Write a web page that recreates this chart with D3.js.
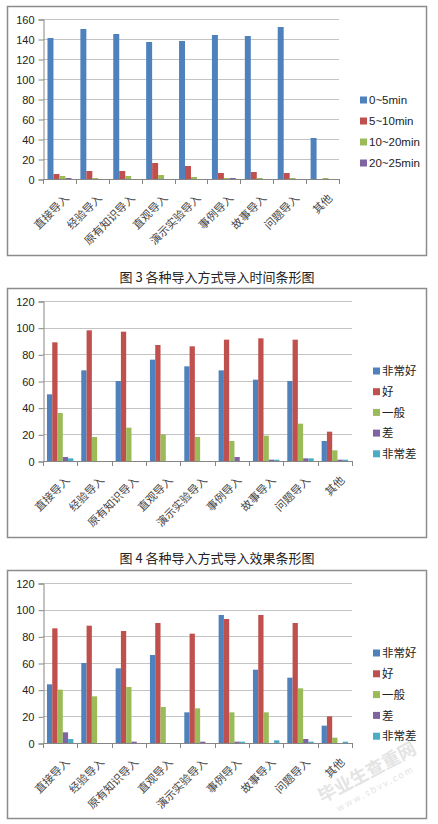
<!DOCTYPE html>
<html>
<head>
<meta charset="utf-8">
<script src="https://cdn.jsdelivr.net/npm/d3@7"></script>
<style>
  body { margin: 0; background: #fff; }
  svg { display: block; }
  .tick text { font-family: "Liberation Sans", Arial, sans-serif; }
</style>
</head>
<body>
<svg id="page" width="438" height="824"></svg>
<script>
// categories shared by all three charts
var categories = ['直接导入', '经验导入', '原有知识导入', '直观导入', '演示实验导入', '事例导入', '故事导入', '问题导入', '其他'];

// chart 1: time
var timeSeries = ['0~5min', '5~10min', '10~20min', '20~25min'];
var time0to5 = [141, 150, 145, 137, 138, 144, 143, 152, 41];
var time5to10 = [5, 8, 8, 16, 13, 6, 7, 6, 0];
var time10to20 = [3, 1, 3, 4, 2, 1, 1, 1, 1];
var time20to25 = [1, 0, 0, 0, 0, 1, 0, 0, 0];

// chart 2 and 3: effect
var effectSeries = ['非常好', '好', '一般', '差', '非常差'];
var effA_veryGood = [50, 68, 60, 76, 71, 68, 61, 60, 15];
var effA_good = [89, 98, 97, 87, 86, 91, 92, 91, 22];
var effA_fair = [36, 18, 25, 20, 18, 15, 19, 28, 8];
var effA_poor = [3, 0, 0, 0, 0, 3, 1, 2, 1];
var effA_veryPoor = [2, 0, 0, 0, 0, 0, 1, 2, 1];

var effB_veryGood = [44, 60, 56, 66, 23, 96, 55, 49, 13];
var effB_good = [86, 88, 84, 90, 82, 93, 96, 90, 20];
var effB_fair = [40, 35, 42, 27, 26, 23, 23, 41, 4];
var effB_poor = [8, 0, 1, 0, 1, 1, 0, 3, 0];
var effB_veryPoor = [3, 0, 0, 0, 0, 1, 2, 1, 1];

var colors = ['#4f81bd', '#c0504d', '#9bbb59', '#8064a2', '#4bacc6'];

var svg = d3.select('#page');

function drawChart(opt) {
  var g = svg.append('g');

  g.append('rect')
      .attr('x', 7.5)
      .attr('y', opt.boxTop + 0.5)
      .attr('width', 419)
      .attr('height', opt.boxHeight)
      .attr('fill', '#fff')
      .attr('stroke', '#8c8c8c')
      .attr('stroke-width', 1.5);

  var x = d3.scaleBand()
      .domain(categories)
      .range([opt.left, opt.right]);

  // gap width 150% of a bar, split on both sides
  var barW = x.bandwidth() / (opt.series.length + 1.5);
  var inner = d3.scaleBand()
      .domain(opt.series)
      .range([barW * 0.75, x.bandwidth() - barW * 0.75]);

  var y = d3.scaleLinear()
      .domain([0, opt.max])
      .range([opt.bottom, opt.top]);

  // gridlines
  g.append('g')
    .selectAll('line')
    .data(y.ticks(opt.max / 20).filter(function(d) { return d > 0; }))
    .enter()
    .append('line')
      .attr('x1', opt.left)
      .attr('x2', opt.right)
      .attr('y1', function(d) { return Math.round(y(d)) + 0.5; })
      .attr('y2', function(d) { return Math.round(y(d)) + 0.5; })
      .attr('stroke', '#c4c4c4');

  // bars
  var rows = categories.map(function(c, i) {
    return opt.series.map(function(s, j) {
      return {cat: c, series: s, idx: j, value: opt.values[j][i]};
    });
  });

  g.append('g')
    .selectAll('g')
    .data(rows)
    .enter()
    .append('g')
      .attr('transform', function(d) { return 'translate(' + x(d[0].cat) + ',0)'; })
    .selectAll('rect')
    .data(function(d) { return d; })
    .enter()
    .append('rect')
      .attr('x', function(d) { return inner(d.series); })
      .attr('width', inner.bandwidth())
      .attr('y', function(d) { return y(d.value); })
      .attr('height', function(d) { return opt.bottom - y(d.value); })
      .attr('fill', function(d) { return colors[d.idx]; });

  // y axis
  var yAxis = d3.axisLeft(y)
      .ticks(opt.max / 20)
      .tickSize(5)
      .tickPadding(4);

  var ya = g.append('g')
      .attr('transform', 'translate(' + (opt.left + 0.5) + ',0.5)')
      .call(yAxis);
  ya.select('.domain').attr('stroke', '#868686');
  ya.selectAll('.tick line').attr('stroke', '#868686');
  ya.selectAll('.tick text')
      .attr('font-size', '11px')
      .attr('fill', '#222');

  // x axis baseline and tick marks between categories
  g.append('line')
      .attr('x1', opt.left)
      .attr('x2', opt.right)
      .attr('y1', opt.bottom + 0.5)
      .attr('y2', opt.bottom + 0.5)
      .attr('stroke', '#868686');

  g.append('g')
    .selectAll('line')
    .data(categories.concat(['end']))
    .enter()
    .append('line')
      .attr('x1', function(d, i) { return Math.round(opt.left + i * x.bandwidth()) + 0.5; })
      .attr('x2', function(d, i) { return Math.round(opt.left + i * x.bandwidth()) + 0.5; })
      .attr('y1', opt.bottom)
      .attr('y2', opt.bottom + 5)
      .attr('stroke', '#868686');

  // rotated category labels
  g.append('g')
    .selectAll('text')
    .data(categories)
    .enter()
    .append('text')
      .attr('transform', function(d) {
        return 'translate(' + (x(d) + x.bandwidth() / 2 + 5) + ',' + (opt.bottom + 14.5) + ') rotate(-45)';
      })
      .attr('text-anchor', 'end')
      .attr('dy', '0.7em')
      .attr('font-family', '"Noto Sans CJK SC", sans-serif')
      .attr('font-size', '11px')
      .attr('fill', '#444')
      .text(function(d) { return d; });

  // legend
  var lg = g.append('g')
    .selectAll('g')
    .data(opt.series)
    .enter()
    .append('g')
      .attr('transform', function(d, i) {
        return 'translate(' + opt.legendX + ',' + (opt.legendY + i * opt.legendStep) + ')';
      });

  lg.append('rect')
      .attr('x', 0)
      .attr('y', -3.5)
      .attr('width', 7)
      .attr('height', 7)
      .attr('fill', function(d, i) { return colors[i]; });

  lg.append('text')
      .attr('x', 9)
      .attr('dy', '0.36em')
      .attr('font-family', '"Liberation Sans", "Noto Sans CJK SC", sans-serif')
      .attr('font-size', '11.5px')
      .attr('fill', '#222')
      .text(function(d) { return d; });
}

function caption(text, cy) {
  svg.append('text')
      .attr('x', 217)
      .attr('y', cy)
      .attr('dy', '0.36em')
      .attr('text-anchor', 'middle')
      .attr('font-family', '"Noto Sans CJK SC", sans-serif')
      .attr('font-size', '13px')
      .attr('fill', '#222')
      .text(text);
}

drawChart({
  boxTop: 6, boxHeight: 249,
  left: 43, right: 339, top: 19, bottom: 179, max: 160,
  series: timeSeries,
  values: [time0to5, time5to10, time10to20, time20to25],
  legendX: 360, legendY: 100, legendStep: 21
});
caption('图 3 各种导入方式导入时间条形图', 277);

drawChart({
  boxTop: 288, boxHeight: 249,
  left: 43, right: 352, top: 301, bottom: 461, max: 120,
  series: effectSeries,
  values: [effA_veryGood, effA_good, effA_fair, effA_poor, effA_veryPoor],
  legendX: 373, legendY: 371, legendStep: 20.7
});
caption('图 4 各种导入方式导入效果条形图', 558);

drawChart({
  boxTop: 570, boxHeight: 248,
  left: 43, right: 352, top: 583, bottom: 743, max: 120,
  series: effectSeries,
  values: [effB_veryGood, effB_good, effB_fair, effB_poor, effB_veryPoor],
  legendX: 373, legendY: 653, legendStep: 20.8
});

// faint watermark
var wm = svg.append('g')
    .attr('transform', 'translate(370,778) rotate(-28)')
    .attr('fill', '#e4e4e4')
    .attr('text-anchor', 'middle')
    .attr('font-family', '"Noto Sans CJK SC", sans-serif');
wm.append('text')
    .attr('font-size', '18px')
    .attr('font-weight', 'bold')
    .text('毕业生查重网');
wm.append('text')
    .attr('y', 15)
    .attr('font-size', '9px')
    .attr('letter-spacing', '2px')
    .text('www.sbvv.com');
</script>
</body>
</html>
